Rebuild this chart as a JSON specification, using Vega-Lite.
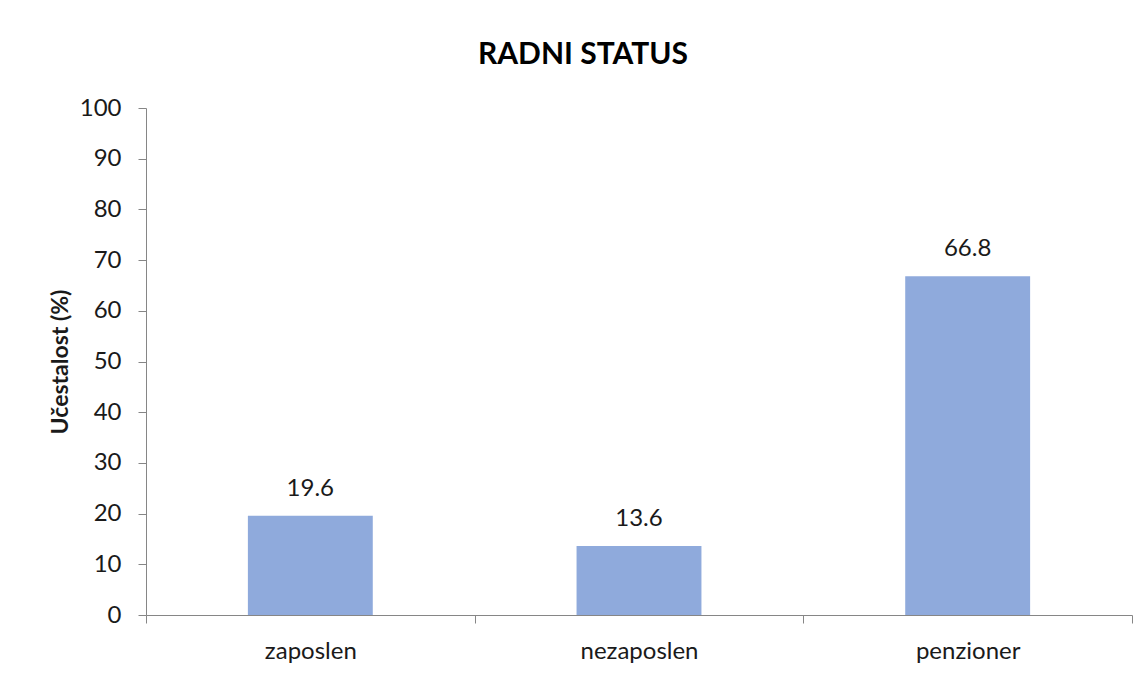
{
  "$schema": "https://vega.github.io/schema/vega-lite/v6.json",
  "autosize": "none",
  "width": 986,
  "height": 507,
  "padding": {"left": 146, "top": 108, "right": 13, "bottom": 59},
  "background": "white",
  "config": {
    "view": {"stroke": null},
    "font": "Lato",
    "axis": {"labelFont": "Lato", "titleFont": "Lato", "labelColor": "#1a1a1a", "titleColor": "#1a1a1a"}
  },
  "title": {
    "text": "RADNI STATUS",
    "font": "Lato",
    "fontSize": 30,
    "fontWeight": "bold",
    "color": "#000000",
    "anchor": "middle",
    "frame": "group",
    "dx": -56,
    "baseline": "alphabetic",
    "offset": 2
  },
  "data": {
    "values": [
      {"status": "zaposlen", "pct": 19.6},
      {"status": "nezaposlen", "pct": 13.6},
      {"status": "penzioner", "pct": 66.8}
    ]
  },
  "encoding": {
    "x": {
      "field": "status",
      "type": "nominal",
      "sort": null,
      "scale": {"paddingInner": 0, "paddingOuter": 0},
      "axis": {
        "title": null,
        "labelAngle": 0,
        "labelFontSize": 24,
        "labelBaseline": "alphabetic",
        "labelPadding": 35,
        "tickBand": "extent",
        "tickSize": 8,
        "tickColor": "#868686",
        "domainColor": "#868686",
        "grid": false
      }
    },
    "y": {
      "field": "pct",
      "type": "quantitative",
      "scale": {"domain": [0, 100], "nice": false},
      "axis": {
        "title": "Učestalost (%)",
        "titleFontSize": 23,
        "titleFontWeight": "bold",
        "titleX": -74,
        "values": [0, 10, 20, 30, 40, 50, 60, 70, 80, 90, 100],
        "labelFontSize": 24,
        "labelPadding": 17,
        "tickSize": 8,
        "tickColor": "#868686",
        "domainColor": "#868686",
        "grid": false
      }
    }
  },
  "layer": [
    {
      "mark": {"type": "bar", "color": "#8FAADC", "width": {"band": 0.38}}
    },
    {
      "mark": {"type": "text", "font": "Lato", "fontSize": 24, "color": "#1a1a1a", "baseline": "alphabetic", "dy": -20},
      "encoding": {"text": {"field": "pct", "type": "quantitative", "format": ".1f"}}
    }
  ]
}
